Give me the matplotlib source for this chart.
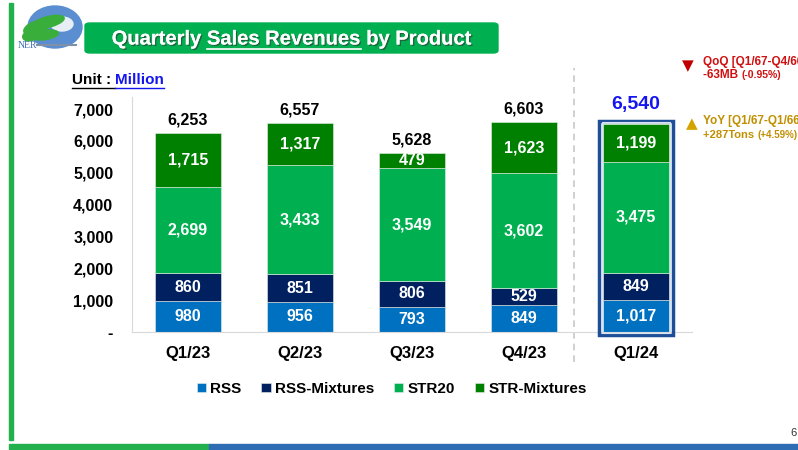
import numpy as np
import matplotlib
matplotlib.use("Agg")
import matplotlib.pyplot as plt
from matplotlib.patches import FancyBboxPatch, Rectangle, Ellipse
import matplotlib.patheffects as pe

plt.rcParams['font.family'] = ['Liberation Sans', 'DejaVu Sans']
plt.rcParams['font.weight'] = 'bold'

quarters = ['Q1/23', 'Q2/23', 'Q3/23', 'Q4/23', 'Q1/24']
rss = [980, 956, 793, 849, 1017]
rss_mix = [860, 851, 806, 529, 849]
str20 = [2699, 3433, 3549, 3602, 3475]
str_mix = [1715, 1317, 479, 1623, 1199]
totals = [6253, 6557, 5628, 6603, 6540]
yticks = [0, 1000, 2000, 3000, 4000, 5000, 6000, 7000]

series = [('RSS', rss, '#0070C0'),
          ('RSS-Mixtures', rss_mix, '#002060'),
          ('STR20', str20, '#00B050'),
          ('STR-Mixtures', str_mix, '#008000')]

W, H = 798, 450
fig = plt.figure(figsize=(W / 100, H / 100), dpi=100)

def fx(px):
    return px / W

def fy(py):
    return 1 - py / H

renderer = fig.canvas.get_renderer()

def text_run(x0, y, parts, **kw):
    # draw text pieces one after the other on one line
    xc = x0
    for s, size in parts:
        t = fig.text(xc, y, s, fontsize=size, va='center', **kw)
        xc += t.get_window_extent(renderer).width / W
    return xc

# slide frame
fig.patches.append(Rectangle((fx(9), fy(440)), fx(4), fy(3) - fy(440), transform=fig.transFigure,
                             color='#22B14C', zorder=0))
fig.patches.append(Rectangle((fx(9), 0), fx(200), fy(444), transform=fig.transFigure,
                             color='#22B14C', zorder=0))
fig.patches.append(Rectangle((fx(209), 0), 1, fy(444), transform=fig.transFigure,
                             color='#2E6DB4', zorder=0))
fig.text(fx(790), fy(433), '6', fontsize=8, fontweight='normal', va='center', color='#333333')

# logo (rough sketch: globe + leaves)
fig.patches.append(Ellipse((fx(55), fy(27)), fx(54), fy(5) - fy(47), transform=fig.transFigure,
                           color='#5A8ED0', zorder=1))
fig.patches.append(Ellipse((fx(62), fy(24)), fx(22), fy(0) - fy(14), transform=fig.transFigure,
                           color='#E8EEF6', zorder=1))
for cx, cy, w, h, ang in [(36, 28, 30, 11, 50), (48, 22, 36, 10, 30), (45, 35, 28, 9, 20),
                          (30, 36, 18, 8, 70)]:
    fig.patches.append(Ellipse((fx(cx), fy(cy)), fx(w), fy(0) - fy(h), angle=ang,
                               transform=fig.transFigure, color='#3AAE3A', zorder=2))
fig.text(fx(18), fy(45), 'NER', fontsize=7, fontweight='normal', family='Liberation Serif',
         color='#3C6EB4', va='center', zorder=4)
fig.lines.append(plt.Line2D([fx(37), fx(76)], [fy(45), fy(45)], transform=fig.transFigure,
                            color='#8090A8', lw=1.5, zorder=4))

# title box
fig.patches.append(FancyBboxPatch((fx(85), fy(53)), fx(413), fy(23) - fy(53),
                                  boxstyle='round,pad=0,rounding_size=0.006',
                                  transform=fig.transFigure, color='#00B050', zorder=1))
title_parts = ['Quarterly ', 'Sales Revenues ', 'by Product']
shadow = [pe.withSimplePatchShadow(offset=(1, -1), shadow_rgbFace='#333333', alpha=0.6), pe.Normal()]
tmp = fig.text(0, 0, ''.join(title_parts), fontsize=14.5)
full_w = tmp.get_window_extent(renderer).width
tmp.remove()
xcur = fx(291.5) - (full_w / W) / 2
for i, part in enumerate(title_parts):
    t = fig.text(xcur, fy(39), part, fontsize=14.5, color='white', va='center', zorder=5,
                 path_effects=shadow)
    pw = t.get_window_extent(renderer).width / W
    if i == 1:
        fig.lines.append(plt.Line2D([xcur, xcur + pw * 0.97], [fy(48.5), fy(48.5)],
                                    transform=fig.transFigure, color='white', lw=1.2, zorder=5))
    xcur += pw

# unit label
t1 = fig.text(fx(72), fy(80), 'Unit\u00a0:\u00a0', fontsize=11, color='black', va='center')
w1 = t1.get_window_extent(renderer).width / W
t2 = fig.text(fx(72) + w1, fy(80), 'Million', fontsize=11, color='#1515F0', va='center')
w2 = t2.get_window_extent(renderer).width / W
fig.lines.append(plt.Line2D([fx(72), fx(72) + w1], [fy(88), fy(88)], transform=fig.transFigure,
                            color='black', lw=1))
fig.lines.append(plt.Line2D([fx(72) + w1, fx(72) + w1 + w2], [fy(88), fy(88)],
                            transform=fig.transFigure, color='#1515F0', lw=1))

# chart
ax = fig.add_axes([fx(132), fy(332), fx(692) - fx(132), fy(97) - fy(332)])
x = np.arange(len(quarters))
bottom = np.zeros(len(quarters))
for name, vals, col in series:
    ax.bar(x, vals, 0.59, bottom=bottom, color=col, label=name, edgecolor='#E8F0E8', linewidth=0.4,
           zorder=2)
    for xi, b, v in zip(x, bottom, vals):
        ax.text(xi, b + v / 2, f'{v:,}', ha='center', va='center', color='white', fontsize=11.5,
                zorder=3)
    bottom += np.array(vals)

for xi, tot in zip(x[:-1], totals[:-1]):
    ax.text(xi, tot + 180, f'{tot:,}', ha='center', va='bottom', fontsize=11.5, color='black')
ax.text(x[-1], totals[-1] + 330, f'{totals[-1]:,}', ha='center', va='bottom', fontsize=14,
        color='#1515F0')

# highlight box around latest quarter
ax.add_patch(Rectangle((x[-1] - 0.33, -95), 0.66, totals[-1] + 180, fill=False,
                       edgecolor='#1F4E99', lw=2.5, zorder=4, clip_on=False))
ax.add_patch(Rectangle((x[-1] - 0.305, -20), 0.61, totals[-1] + 60, fill=False,
                       edgecolor='#D8E4F0', lw=0.8, zorder=4, clip_on=False))

ax.plot([3.45, 3.45], [-950, 8280], ls=(0, (4, 3)), color='#C8C8C8', lw=1.2, clip_on=False, zorder=1)

ax.set_xlim(-0.5, 4.5)
ax.set_ylim(0, 7380)
ax.set_yticks(yticks)
ax.set_yticklabels(['-'] + [f'{v:,}' for v in yticks[1:]], fontsize=11.5)
ax.set_xticks(x)
ax.set_xticklabels(quarters, fontsize=12)
ax.tick_params(length=0, pad=13.5, axis='y')
ax.tick_params(length=0, pad=10, axis='x')
for s in ['top', 'right']:
    ax.spines[s].set_visible(False)
ax.spines['left'].set_color('#D9D9D9')
ax.spines['bottom'].set_color('#D9D9D9')

fig.legend(loc='center', bbox_to_anchor=(fx(392), fy(389)), ncol=4, frameon=False, fontsize=11,
           handlelength=0.6, handleheight=0.6, handletextpad=0.3, columnspacing=1.3)

# QoQ / YoY notes (slide is cropped at the right edge, as in the source)
fig.text(fx(688), fy(66), '\u25BC', fontsize=11, color='#C00000', ha='center', va='center',
         family='DejaVu Sans')
fig.text(fx(703), fy(62), 'QoQ [Q1/67-Q4/66]', fontsize=8.5, color='#D01010', va='center')
text_run(fx(703), fy(75), [('-63MB ', 8.5), ('(-0.95%)', 7.5)], color='#D01010')
fig.text(fx(692), fy(124), '\u25B2', fontsize=11, color='#D4A300', ha='center', va='center',
         family='DejaVu Sans')
fig.text(fx(703), fy(121), 'YoY [Q1/67-Q1/66]', fontsize=8.5, color='#C09000', va='center')
text_run(fx(703), fy(135), [('+287Tons ', 8), ('(+4.59%)', 7)], color='#C09000')

fig.savefig('out.png', dpi=100)
